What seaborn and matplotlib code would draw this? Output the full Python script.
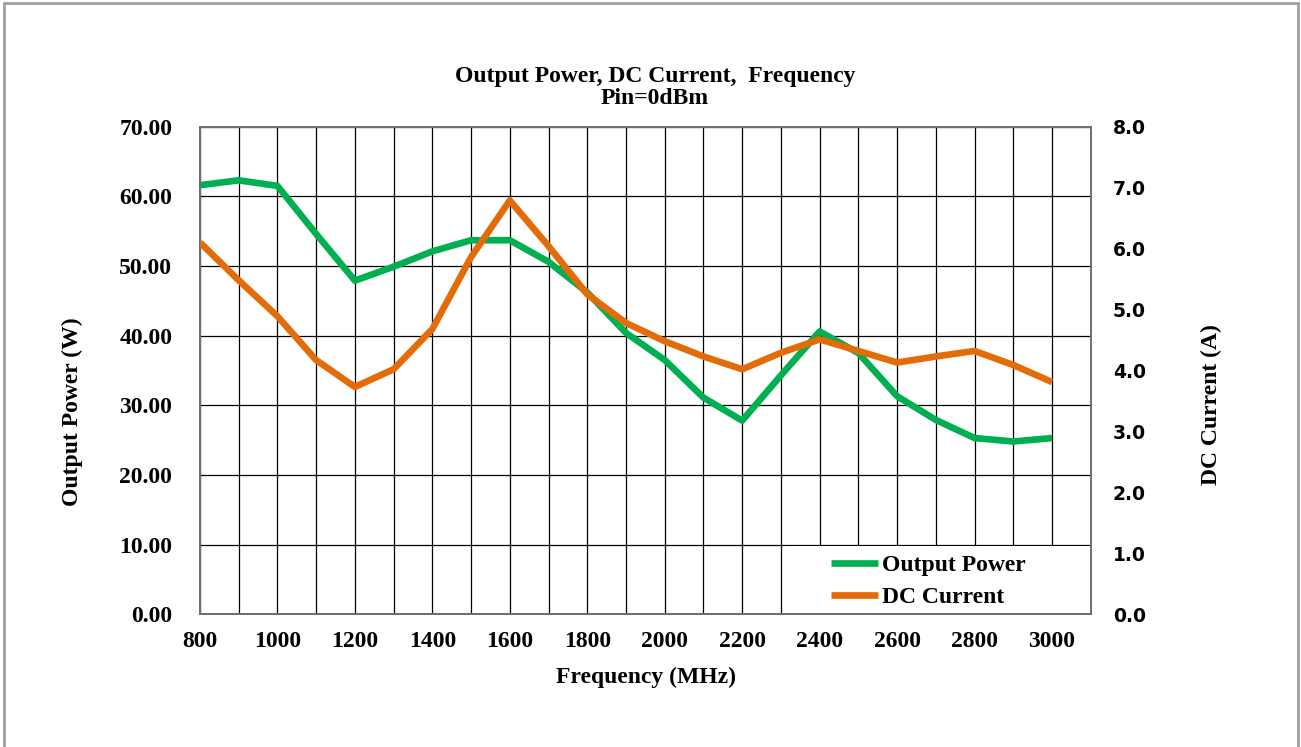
# Output power / DC current vs frequency

import pandas as pd
import matplotlib
matplotlib.use('Agg')
import matplotlib.pyplot as plt
import matplotlib.patches as patches
import seaborn as sns

# Data
freq_mhz = [800, 900, 1000, 1100, 1200, 1300, 1400, 1500, 1600, 1700, 1800, 1900,
            2000, 2100, 2200, 2300, 2400, 2500, 2600, 2700, 2800, 2900, 3000]
output_power_w = [61.6, 62.3, 61.5, 54.6, 47.9, 49.9, 52.1, 53.7, 53.7, 50.6, 46.2, 40.4,
                  36.5, 31.1, 27.8, 34.3, 40.6, 37.5, 31.3, 27.9, 25.3, 24.8, 25.3]
dc_current_a = [6.10, 5.48, 4.89, 4.17, 3.73, 4.02, 4.68, 5.86, 6.79, 6.04, 5.25, 4.78,
                4.48, 4.23, 4.02, 4.29, 4.51, 4.32, 4.13, 4.23, 4.32, 4.09, 3.81]

x_major = [800, 1000, 1200, 1400, 1600, 1800, 2000, 2200, 2400, 2600, 2800, 3000]
x_minor = [900, 1100, 1300, 1500, 1700, 1900, 2100, 2300, 2500, 2700, 2900, 3100]
power_ticks = [0, 10, 20, 30, 40, 50, 60, 70]
current_ticks = [0, 1, 2, 3, 4, 5, 6, 7, 8]

df = pd.DataFrame({'freq': freq_mhz, 'power': output_power_w, 'current': dc_current_a})

GREEN = '#00b050'
ORANGE = '#e36c09'
SERIF = ['Liberation Serif', 'DejaVu Serif']

sns.set_style('white')
plt.rcParams['font.family'] = SERIF
plt.rcParams['font.weight'] = 'bold'
plt.rcParams['text.color'] = 'black'
plt.rcParams['axes.labelcolor'] = 'black'
plt.rcParams['xtick.color'] = 'black'
plt.rcParams['ytick.color'] = 'black'

fig = plt.figure(figsize=(13.01, 7.47), dpi=100)
ax = fig.add_axes([0.1537, 0.1777, 0.6847, 0.6527])
ax2 = ax.twinx()

sns.lineplot(data=df, x='freq', y='power', ax=ax, color=GREEN, linewidth=4.8,
             solid_capstyle='butt', solid_joinstyle='round', zorder=3, label='Output Power')
sns.lineplot(data=df, x='freq', y='current', ax=ax2, color=ORANGE, linewidth=4.8,
             solid_capstyle='butt', solid_joinstyle='round', zorder=3, label='DC Current')

ax.set_xlim(800, 3100)
ax.set_ylim(0, 70)
ax2.set_ylim(0, 8)

ax.set_xticks(x_major)
ax.set_xticks(x_minor, minor=True)
ax.set_yticks(power_ticks)
ax.set_yticklabels([f'{v:.2f}' for v in power_ticks])
ax2.set_yticks(current_ticks)
ax2.set_yticklabels([f'{v:.1f}' for v in current_ticks],
                    family=['DejaVu Sans'], fontweight='bold')

ax.grid(True, which='both', axis='x', color='black', linewidth=0.9)
ax.grid(True, which='major', axis='y', color='black', linewidth=0.9)
ax.set_axisbelow(True)
ax2.grid(False)

ax.tick_params(axis='x', which='both', direction='in', length=4, width=0.9,
               color='#404040', labelcolor='black', labelsize=17, pad=12)
ax.tick_params(axis='y', length=0, labelsize=17, pad=20, labelcolor='black')
ax2.tick_params(axis='y', length=0, labelsize=13.5, pad=16, labelcolor='black')

for a in (ax, ax2):
    for sp in a.spines.values():
        sp.set_color('#707070')
        sp.set_linewidth(1.4)

ax.set_xlabel('Frequency (MHz)', fontsize=17, fontweight='bold')
ax.xaxis.set_label_coords(0.5007, -0.108)
ax.set_ylabel('Output Power (W)', fontsize=17, fontweight='bold')
ax.yaxis.set_label_coords(-0.131, 0.415)
ax2.set_ylabel('DC Current (A)', fontsize=17, fontweight='bold', rotation=90)
ax2.yaxis.set_label_coords(1.124, 0.431)

# white legend area covering the grid in the lower right
ax.add_patch(patches.Rectangle((0.657, 0.0), 0.343, 0.14, transform=ax.transAxes,
                               facecolor='white', edgecolor='none', zorder=1.5))

ax.get_legend().remove()
h1, l1 = ax.get_legend_handles_labels()
h2, l2 = ax2.get_legend_handles_labels()
ax2.legend(h1 + h2, l1 + l2, loc='lower left', bbox_to_anchor=(0.695, -0.012),
           frameon=False, borderpad=0, handlelength=2.0, handletextpad=0.15,
           labelspacing=0.45, prop={'family': SERIF, 'weight': 'bold', 'size': 17})

fig.text(0.5035, 0.883, 'Output Power, DC Current,  Frequency\nPin=0dBm',
         ha='center', va='center', fontsize=17, fontweight='bold', linespacing=1.1)

# thin grey frame around the whole picture
fig.patches.append(patches.Rectangle((0.003, -0.01), 0.995, 1.006, transform=fig.transFigure,
                                     fill=False, edgecolor='#a0a0a0', linewidth=2))

fig.savefig('out.png', dpi=100, facecolor='white')
